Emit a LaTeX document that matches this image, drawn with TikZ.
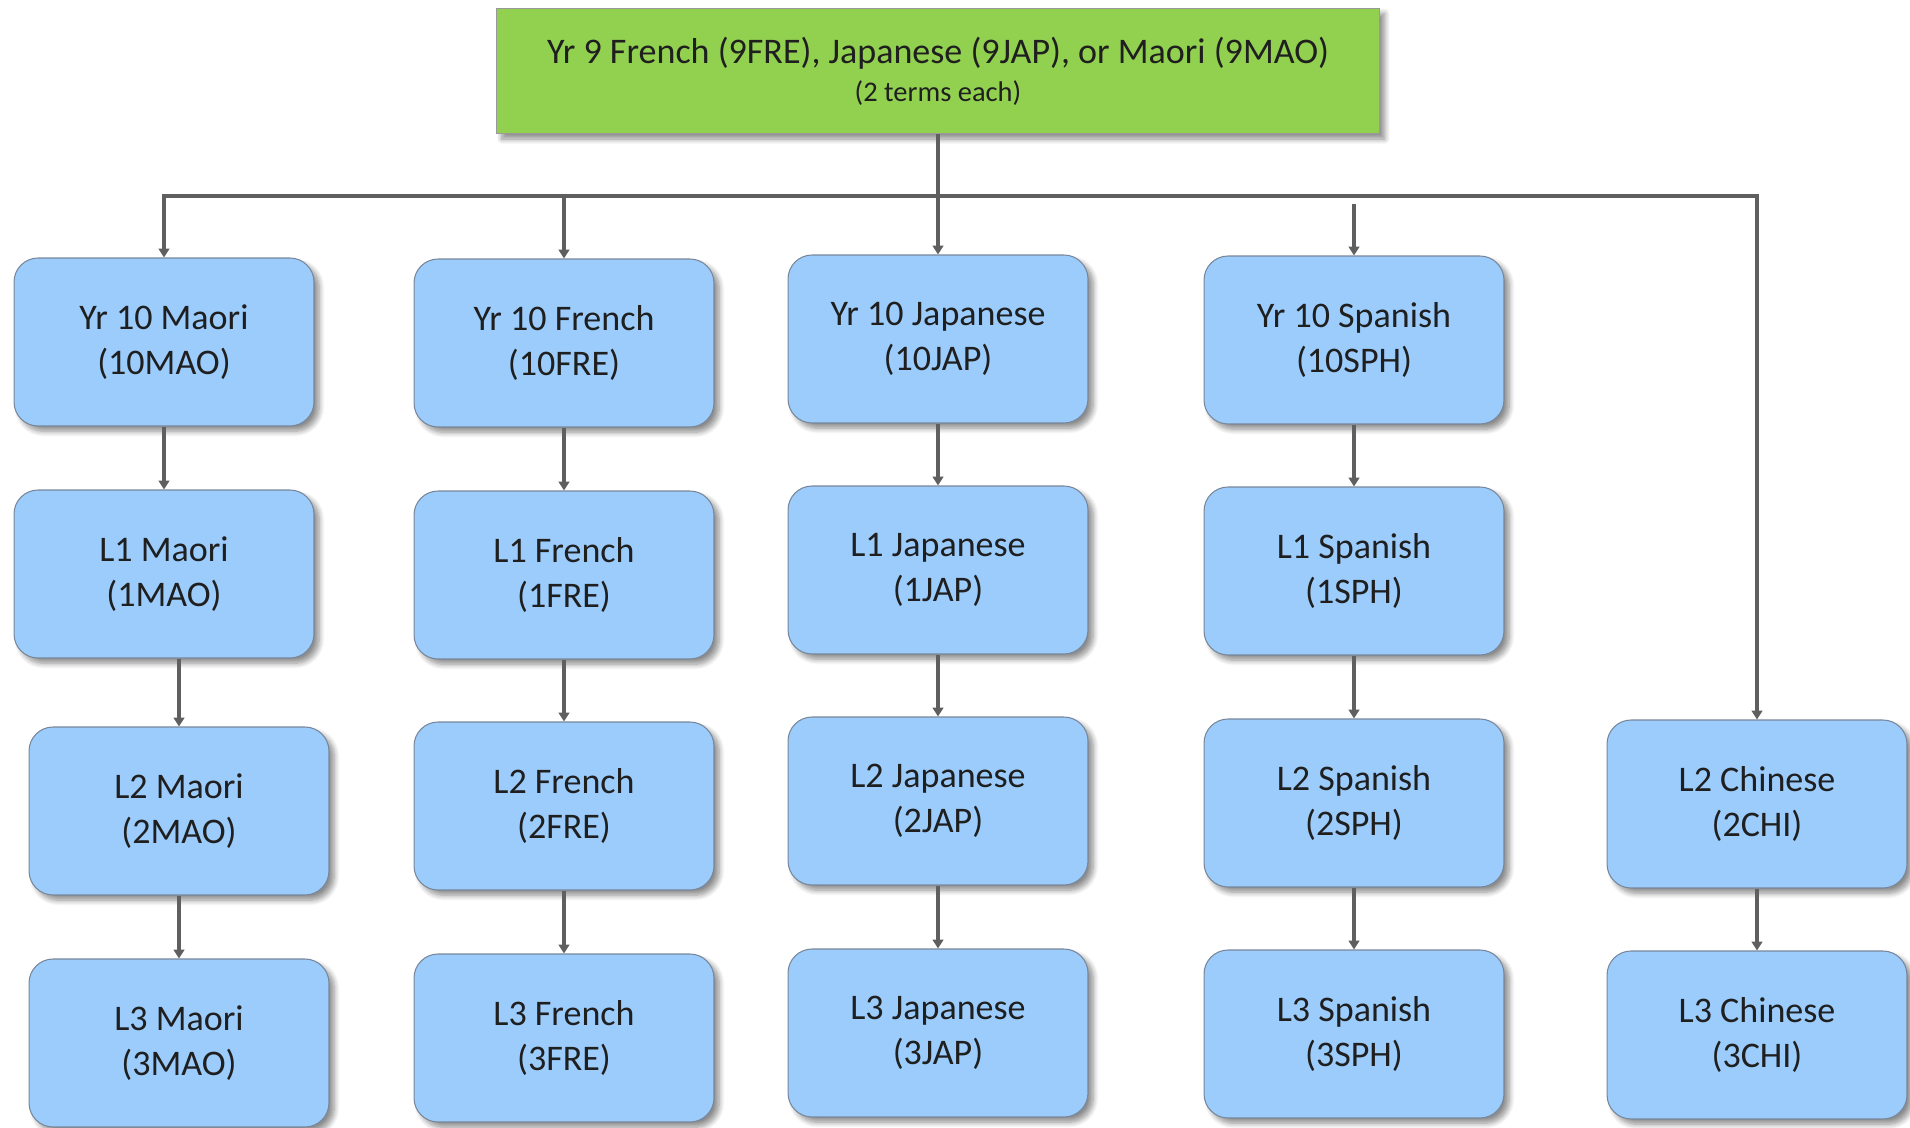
\documentclass[tikz,border=0pt]{standalone}
\usepackage{fontspec}
\setmainfont{Carlito}
\usetikzlibrary{arrows.meta,shadows.blur}

\definecolor{boxblue}{RGB}{155,204,252}
\definecolor{topgreen}{RGB}{146,208,80}
\definecolor{linegray}{RGB}{95,95,95}
\definecolor{edgegray}{RGB}{120,135,155}

\tikzset{
	course/.style={draw=edgegray, line width=0.6pt, fill=boxblue, rounded corners=0.48cm,
		minimum width=6cm, minimum height=3.36cm, align=center, text=black!88,
		font=\fontsize{20.5}{25.5}\selectfont,
		blur shadow={shadow xshift=3pt, shadow yshift=-3pt, shadow blur radius=3pt, shadow blur steps=8, shadow opacity=45}},
	yearnine/.style={course, fill=topgreen, draw=black!40, rounded corners=0pt,
		minimum width=17.66cm, minimum height=2.51cm},
	link/.style={draw=linegray, line width=1.9pt, -{Triangle[length=5pt,width=6pt]}},
	bus/.style={draw=linegray, line width=1.9pt}
}

\begin{document}
\begin{tikzpicture}[x=0.02cm, y=-0.02cm]
			%%%%% START %%%%%
			\useasboundingbox (0,0) rectangle (1910,1128);
			
			\node[yearnine] (top) at (938,71) {Yr 9 French (9FRE), Japanese (9JAP), or Maori (9MAO)\\[-4pt]{\fontsize{16.2}{19}\selectfont (2 terms each)}};
			
			\node[course] (m10) at (164,342) {Yr 10 Maori\\(10MAO)};
			\node[course] (m1) at (164,574) {L1 Maori\\(1MAO)};
			\node[course] (m2) at (179,811) {L2 Maori\\(2MAO)};
			\node[course] (m3) at (179,1043) {L3 Maori\\(3MAO)};
			
			\node[course] (f10) at (564,343) {Yr 10 French\\(10FRE)};
			\node[course] (f1) at (564,575) {L1 French\\(1FRE)};
			\node[course] (f2) at (564,806) {L2 French\\(2FRE)};
			\node[course] (f3) at (564,1038) {L3 French\\(3FRE)};
			
			\node[course] (j10) at (938,339) {Yr 10 Japanese\\(10JAP)};
			\node[course] (j1) at (938,570) {L1 Japanese\\(1JAP)};
			\node[course] (j2) at (938,801) {L2 Japanese\\(2JAP)};
			\node[course] (j3) at (938,1033) {L3 Japanese\\(3JAP)};
			
			\node[course] (s10) at (1354,340) {Yr 10 Spanish\\(10SPH)};
			\node[course] (s1) at (1354,571) {L1 Spanish\\(1SPH)};
			\node[course] (s2) at (1354,803) {L2 Spanish\\(2SPH)};
			\node[course] (s3) at (1354,1034) {L3 Spanish\\(3SPH)};
			
			\node[course] (c2) at (1757,804) {L2 Chinese\\(2CHI)};
			\node[course] (c3) at (1757,1035) {L3 Chinese\\(3CHI)};
			
			% bus under the Yr 9 box
			\coordinate (split) at (938,196);
			\coordinate (sgap) at (1354,204);
			\draw[bus] (top.south) -- (split);
			\draw[link] (split) -| (m10.north);
			\draw[link] (split) -| (c2.north);
			\draw[link] (split -| f10.north) -- (f10.north);
			\draw[link] (split) -- (j10.north);
			\draw[link] (sgap) -- (s10.north);
			
			% down each column
			\draw[link] (m10) -- (m1);
			\draw[link] (m1.south -| m2.north) -- (m2.north);
			\draw[link] (m2) -- (m3);
			\draw[link] (f10) -- (f1);
			\draw[link] (f1) -- (f2);
			\draw[link] (f2) -- (f3);
			\draw[link] (j10) -- (j1);
			\draw[link] (j1) -- (j2);
			\draw[link] (j2) -- (j3);
			\draw[link] (s10) -- (s1);
			\draw[link] (s1) -- (s2);
			\draw[link] (s2) -- (s3);
			\draw[link] (c2) -- (c3);
			
			%%%%% END %%%%%
\end{tikzpicture}
\end{document}
